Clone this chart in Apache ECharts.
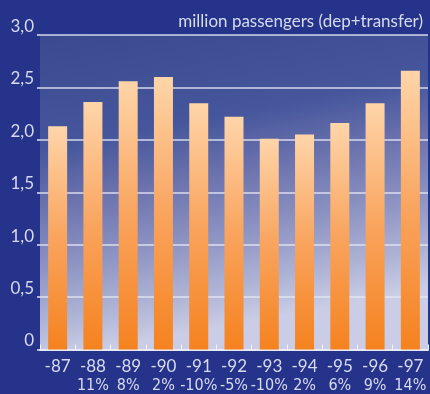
<!DOCTYPE html>
<html>
<head>
<meta charset="utf-8">
<script src="https://cdn.jsdelivr.net/npm/echarts@6/dist/echarts.min.js"></script>
<style>
  html, body { margin: 0; padding: 0; background: #25338a; }
  #chart { width: 430px; height: 394px; }
</style>
</head>
<body>
<div id="chart"></div>
<script>
// Passengers per year, million (departing + transfer)
const years = ['-87', '-88', '-89', '-90', '-91', '-92', '-93', '-94', '-95', '-96', '-97'];
const passengers = [2.13, 2.36, 2.56, 2.60, 2.35, 2.22, 2.01, 2.05, 2.16, 2.35, 2.66];
// Year-on-year change shown under each year
const changes = ['', '11%', '8%', '2%', '-10%', '-5%', '-10%', '2%', '6%', '9%', '14%'];
const unitTitle = 'million passengers (dep+transfer)';

const textColor = '#d7dbef';
const chart = echarts.init(document.getElementById('chart'));

chart.setOption({
  backgroundColor: '#25338a',
  animation: false,
  title: {
    text: unitTitle,
    right: 2,
    top: 8,
    textStyle: { color: textColor, fontSize: 17, fontWeight: 'normal', fontFamily: 'Lato' }
  },
  grid: {
    left: 40, right: 2, top: 35, bottom: 42,
    show: true,
    borderWidth: 0,
    backgroundColor: new echarts.graphic.LinearGradient(0, 0, 0.15, 1, [
      { offset: 0, color: '#3a4a8f' },
      { offset: 0.35, color: '#45569c' },
      { offset: 0.5, color: '#666eab' },
      { offset: 0.7, color: '#8a90c0' },
      { offset: 0.88, color: '#aeb3d5' },
      { offset: 1, color: '#cacde5' }
    ])
  },
  xAxis: {
    type: 'category',
    data: years,
    axisLine: { lineStyle: { color: '#e8eaf6', width: 2 } },
    axisTick: { show: true, inside: true, length: 5, lineStyle: { color: '#f2f3fa', width: 1 } },
    axisLabel: {
      margin: 8,
      interval: 0,
      formatter: (v, i) => '{y|' + v + '}\n{p|' + (changes[i] || ' ') + '}',
      rich: {
        y: { color: textColor, fontSize: 17, fontFamily: 'Lato', lineHeight: 18 },
        p: { color: textColor, fontSize: 16, fontFamily: '"DejaVu Sans Condensed", "Roboto Condensed", sans-serif', lineHeight: 21 }
      }
    }
  },
  yAxis: {
    type: 'value',
    min: 0, max: 3, interval: 0.5,
    axisLine: { show: false },
    axisTick: { show: true, length: 3, lineStyle: { color: '#dfe2f2', width: 1.5 } },
    splitLine: { lineStyle: { color: 'rgba(228,231,245,0.9)', width: 1.5 } },
    axisLabel: {
      margin: 6,
      color: textColor,
      fontSize: 17,
      fontFamily: 'Lato',
      verticalAlign: 'bottom',
      formatter: v => v === 0 ? '0' : v.toFixed(1).replace('.', ',')
    }
  },
  series: [{
    type: 'bar',
    data: passengers,
    barWidth: 19,
    itemStyle: {
      color: new echarts.graphic.LinearGradient(0, 0, 0, 1, [
        { offset: 0, color: '#fed5a9' },
        { offset: 0.5, color: '#f9a45e' },
        { offset: 1, color: '#f5821f' }
      ])
    }
  }]
});
</script>
</body>
</html>
